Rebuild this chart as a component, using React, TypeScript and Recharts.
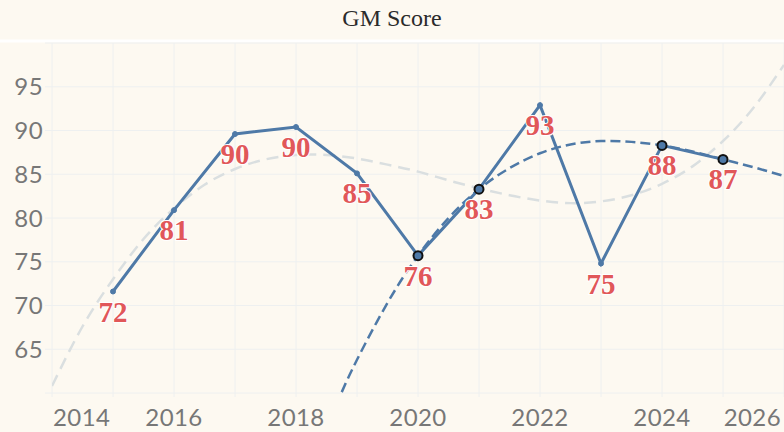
import React from 'react';
import { ComposedChart, Line, XAxis, YAxis, CartesianGrid, LabelList } from 'recharts';

// ---- data ----
const years = [2015, 2016, 2017, 2018, 2019, 2020, 2021, 2022, 2023, 2024, 2025];
const scores = [71.6, 80.9, 89.6, 90.4, 85.1, 75.7, 83.3, 92.9, 74.8, 88.3, 86.7];
const scoreLabels = ['72', '81', '90', '90', '85', '76', '83', '93', '75', '88', '87'];
const highlightYears = [2020, 2021, 2024, 2025];

// light grey dashed trend (whole range)
const trendYears = [
  2014, 2014.5, 2015, 2015.5, 2016, 2016.5, 2017, 2017.5, 2018, 2018.5, 2019, 2019.5, 2020,
  2020.5, 2021, 2021.5, 2022, 2022.5, 2023, 2023.5, 2024, 2024.5, 2025, 2025.5, 2026,
];
const trendValues = [
  60.8, 67.6, 73.0, 77.6, 81.1, 83.8, 85.6, 86.7, 87.2, 87.2, 86.8, 86.1, 85.3,
  84.3, 83.4, 82.6, 82.0, 81.7, 81.9, 82.6, 83.9, 85.9, 88.8, 92.6, 97.5,
];

// blue dashed fit through the highlighted points
const fitYears = [
  2018.75, 2019, 2019.5, 2020, 2020.5, 2021, 2021.5, 2022, 2022.5, 2023, 2023.5, 2024, 2024.5,
  2025, 2025.5, 2026,
];
const fitValues = [
  60.1, 63.8, 70.3, 75.7, 80.0, 83.3, 85.7, 87.4, 88.4, 88.8, 88.7, 88.3, 87.6, 86.7, 85.8, 84.8,
];

const xTicks = [2014, 2015, 2016, 2017, 2018, 2019, 2020, 2021, 2022, 2023, 2024, 2025, 2026];
const xTickLabels = ['2014', '2016', '2018', '2020', '2022', '2024', '2026'];
const yTicks = [60, 65, 70, 75, 80, 85, 90, 95, 100];
const yTickLabels = ['65', '70', '75', '80', '85', '90', '95'];

const title = 'GM Score';

// ---- tables built from the arrays ----
const scoreData = years.map((year, i) => ({ year, score: scores[i], label: scoreLabels[i] }));
const highlightData = scoreData.filter((d) => highlightYears.includes(d.year));
const trendData = trendYears.map((year, i) => ({ year, trend: trendValues[i] }));
const fitData = fitYears.map((year, i) => ({ year, fit: fitValues[i] }));

// ---- styles ----
const W = 784;
const H = 432;
const BG = '#fdf9f1';
const GRID = '#eef0f0';
const BLUE = '#4e79a7';
const RED = '#e15759';
const TICK_COLOR = '#777777';
const TICK_FONT = "Lato, 'Open Sans', 'DejaVu Sans', sans-serif";
const SERIF = "'Liberation Serif', 'Times New Roman', 'DejaVu Serif', serif";

const XTick = (props: any) => {
  const { x, y, payload, index } = props;
  const label = String(payload.value);
  if (!xTickLabels.includes(label)) return <g />;
  let anchor: 'start' | 'middle' | 'end' = 'middle';
  let tx = x;
  if (index === 0) {
    anchor = 'start';
    tx = x + 1;
  } else if (index === xTicks.length - 1) {
    anchor = 'end';
    tx = x - 3;
  }
  return (
    <text x={tx} y={y} dy="0.71em" textAnchor={anchor} fill={TICK_COLOR} fontFamily={TICK_FONT} fontSize={24} letterSpacing={0.4}>
      {label}
    </text>
  );
};

const YTick = (props: any) => {
  const { x, y, payload } = props;
  const label = String(payload.value);
  if (!yTickLabels.includes(label)) return <g />;
  return (
    <text x={x} y={y} dy="0.355em" textAnchor="end" fill={TICK_COLOR} fontFamily={TICK_FONT} fontSize={24} letterSpacing={0.4}>
      {label}
    </text>
  );
};

const ValueLabel = (props: any) => {
  const { x, y, value } = props;
  return (
    <text
      x={x}
      y={y + 30}
      textAnchor="middle"
      fontFamily={SERIF}
      fontWeight="bold"
      fontSize={29}
      fill={RED}
      stroke="#ffffff"
      strokeWidth={2}
      paintOrder="stroke"
    >
      {value}
    </text>
  );
};

export default function App() {
  return (
    <div style={{ position: 'absolute', left: 0, top: 0, width: W, height: H, background: BG, overflow: 'hidden' }}>
      <svg width={W} height={H} style={{ position: 'absolute', left: 0, top: 0 }}>
        <rect x={0} y={39.5} width={W} height={3} fill="#ffffff" />
        <text x={W / 2} y={26} textAnchor="middle" fontFamily={SERIF} fontSize={24} fill="#2b2b2b">
          {title}
        </text>
      </svg>
      <div style={{ position: 'absolute', left: 0, top: 0 }}>
        <ComposedChart width={W} height={H} margin={{ top: 43, right: 0, bottom: 0, left: 0 }}>
          <CartesianGrid stroke={GRID} strokeWidth={1} />
          <XAxis
            type="number"
            dataKey="year"
            domain={[2014, 2026]}
            ticks={xTicks}
            interval={0}
            height={39}
            axisLine={false}
            tickLine={{ stroke: GRID }}
            tickSize={4}
            tickMargin={12}
            tick={<XTick />}
            allowDataOverflow
          />
          <YAxis
            type="number"
            domain={[60, 100]}
            ticks={yTicks}
            interval={0}
            width={52}
            axisLine={false}
            tickLine={{ stroke: GRID }}
            tickSize={7}
            tickMargin={2}
            tick={<YTick />}
            allowDataOverflow
          />
          <Line
            data={trendData}
            dataKey="trend"
            type="natural"
            stroke="#dadfe0"
            strokeWidth={2.5}
            strokeDasharray="12 7"
            dot={false}
            activeDot={false}
            isAnimationActive={false}
          />
          <Line
            data={fitData}
            dataKey="fit"
            type="natural"
            stroke={BLUE}
            strokeWidth={2.5}
            strokeDasharray="10 5"
            dot={false}
            activeDot={false}
            isAnimationActive={false}
          />
          <Line
            data={scoreData}
            dataKey="score"
            type="linear"
            stroke={BLUE}
            strokeWidth={3}
            dot={{ r: 2.5, fill: BLUE, stroke: BLUE, strokeWidth: 1 }}
            activeDot={false}
            isAnimationActive={false}
          />
          <Line
            data={highlightData}
            dataKey="score"
            type="linear"
            stroke="none"
            dot={{ r: 4.5, fill: BLUE, stroke: '#111111', strokeWidth: 2 }}
            activeDot={false}
            isAnimationActive={false}
          />
          <Line
            data={scoreData}
            dataKey="score"
            type="linear"
            stroke="none"
            dot={false}
            activeDot={false}
            isAnimationActive={false}
          >
            <LabelList dataKey="label" content={<ValueLabel />} />
          </Line>
        </ComposedChart>
      </div>
    </div>
  );
}
